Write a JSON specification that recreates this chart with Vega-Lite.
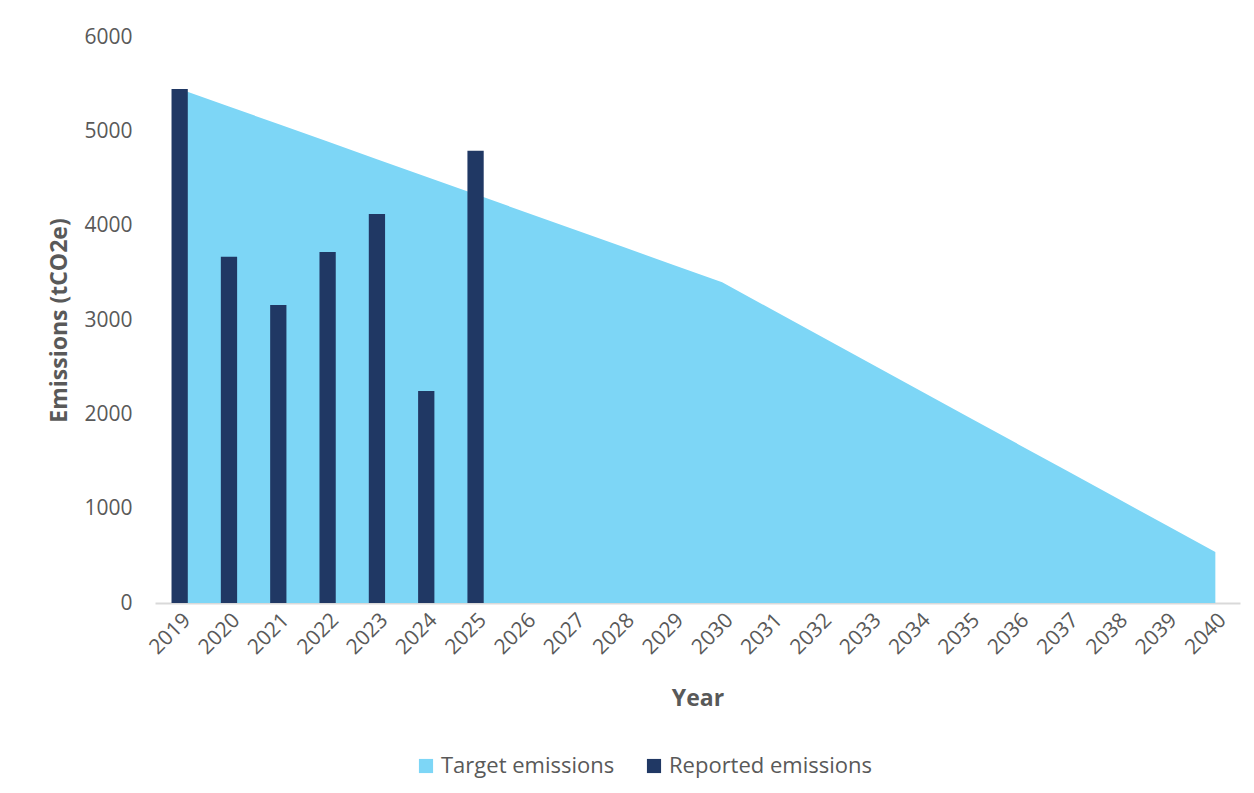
{
  "$schema": "https://vega.github.io/schema/vega-lite/v6.json",
  "autosize": "none",
  "padding": {"left": 155, "top": 37, "right": 14, "bottom": 190},
  "width": 1085,
  "height": 566,
  "background": "white",
  "config": {
    "view": {"stroke": null},
    "font": "Open Sans",
    "axis": {"labelColor": "#595959", "titleColor": "#595959", "labelFont": "Open Sans", "titleFont": "Open Sans"}
  },
  "data": {
    "values": [
      {"year": "2019", "target": 5450, "reported": 5450},
      {"year": "2020", "target": 5264, "reported": 3670},
      {"year": "2021", "target": 5077, "reported": 3160},
      {"year": "2022", "target": 4891, "reported": 3722},
      {"year": "2023", "target": 4705, "reported": 4125},
      {"year": "2024", "target": 4518, "reported": 2248},
      {"year": "2025", "target": 4332, "reported": 4793},
      {"year": "2026", "target": 4146, "reported": null},
      {"year": "2027", "target": 3959, "reported": null},
      {"year": "2028", "target": 3773, "reported": null},
      {"year": "2029", "target": 3586, "reported": null},
      {"year": "2030", "target": 3400, "reported": null},
      {"year": "2031", "target": 3114, "reported": null},
      {"year": "2032", "target": 2828, "reported": null},
      {"year": "2033", "target": 2542, "reported": null},
      {"year": "2034", "target": 2256, "reported": null},
      {"year": "2035", "target": 1970, "reported": null},
      {"year": "2036", "target": 1684, "reported": null},
      {"year": "2037", "target": 1398, "reported": null},
      {"year": "2038", "target": 1112, "reported": null},
      {"year": "2039", "target": 826, "reported": null},
      {"year": "2040", "target": 540, "reported": null}
    ]
  },
  "encoding": {
    "x": {
      "field": "year",
      "type": "ordinal",
      "scale": {"type": "band", "paddingInner": 0.67, "paddingOuter": 0.335},
      "axis": {
        "title": "Year",
        "titleFontSize": 23,
        "titleFontWeight": "bold",
        "titlePadding": 30,
        "labelAngle": -45,
        "labelFontSize": 21,
        "labelPadding": 6,
        "ticks": false,
        "domainColor": "#D9D9D9",
        "domainWidth": 2,
        "grid": false
      }
    }
  },
  "layer": [
    {
      "mark": {"type": "area", "color": "#7DD6F6"},
      "encoding": {
        "x": {"field": "year", "type": "ordinal", "bandPosition": 0.5},
        "y": {
          "field": "target",
          "type": "quantitative",
          "scale": {"domain": [0, 6000]},
          "axis": {
            "title": "Emissions (tCO2e)",
            "titleFontSize": 23,
            "titleFontWeight": "bold",
            "titlePadding": 12,
            "format": "d",
            "values": [0, 1000, 2000, 3000, 4000, 5000, 6000],
            "labelFontSize": 21,
            "labelPadding": 23,
            "ticks": false,
            "domain": false,
            "grid": false
          }
        },
        "color": {
          "datum": "Target emissions",
          "type": "nominal",
          "scale": {"domain": ["Target emissions", "Reported emissions"], "range": ["#7DD6F6", "#203864"]},
          "legend": {
            "title": null,
            "orient": "none",
            "legendX": 260,
            "legendY": 718,
            "direction": "horizontal",
            "symbolType": "square",
            "symbolSize": 200,
            "symbolStrokeWidth": 0,
            "labelFontSize": 22,
            "labelColor": "#595959",
            "labelFont": "Open Sans",
            "columnPadding": 28,
            "labelLimit": 300
          }
        }
      }
    },
    {
      "transform": [{"filter": "datum.reported != null"}],
      "mark": {"type": "bar", "color": "#203864"},
      "encoding": {
        "y": {"field": "reported", "type": "quantitative"},
        "color": {"datum": "Reported emissions", "type": "nominal"}
      }
    }
  ]
}
